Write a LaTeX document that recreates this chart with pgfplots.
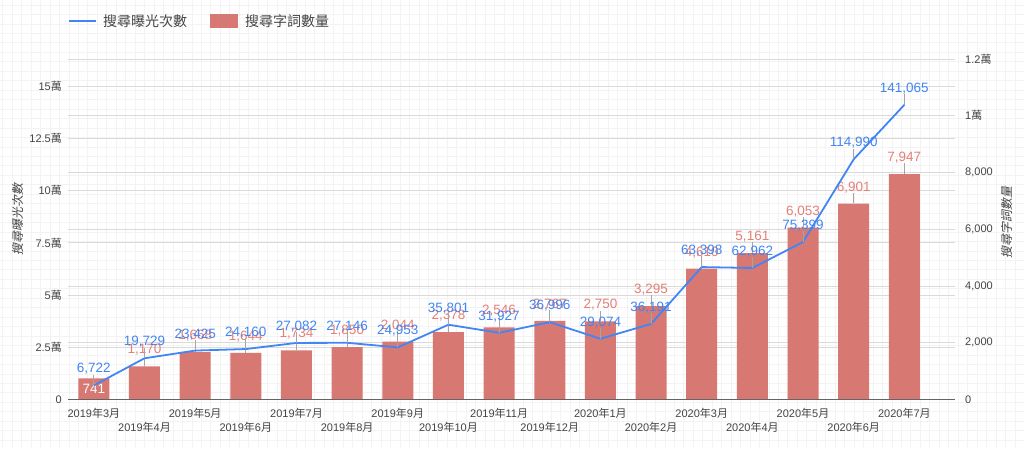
\documentclass[border=0pt]{standalone}
\usepackage{fontspec}
\usepackage{pgfplots}
\usepackage{pgfplotstable}
\pgfplotsset{compat=1.18}
\setmainfont{Liberation Sans}
\newfontfamily\cjk{Noto Sans CJK TC}
\newfontfamily\cjkit[FakeSlant=0.2]{Noto Sans CJK TC}

\definecolor{lineblue}{RGB}{66,133,244}
\definecolor{barred}{RGB}{215,120,115}
\definecolor{labred}{RGB}{228,128,120}
\definecolor{tickgray}{RGB}{68,68,68}
\definecolor{gridgray}{RGB}{218,218,218}
\definecolor{axisgray}{RGB}{100,100,100}
\definecolor{leadgray}{RGB}{165,165,165}
\definecolor{bggray}{RGB}{243,243,243}

\newcommand{\ym}[2]{#1{\cjk 年}#2{\cjk 月}}
\newcommand{\wan}{{\cjk 萬}}

% month index, impressions, keyword count
\pgfplotstableread{
x imp kw
0 6722 741
1 19729 1170
2 23425 1668
3 24160 1644
4 27082 1734
5 27146 1850
6 24953 2044
7 35801 2378
8 31927 2546
9 36996 2767
10 29074 2750
11 36191 3295
12 63398 4610
13 62962 5161
14 75399 6053
15 114990 6901
16 141065 7947
}\data

\pgfkeys{/pgf/number format/.cd, fixed, precision=0, 1000 sep={,}, assume math mode=true}

\pgfplotsset{
  base/.style={
    scale only axis, width=887pt, height=340.5pt,
    at={(68pt,48.5pt)}, anchor=south west,
    xmin=-0.51, xmax=17, ymin=0,
    scaled y ticks=false,
    major tick length=0pt,
    axis line style={draw=none},
    tick label style={font=\fontsize{11}{13}\selectfont, text=tickgray},
    grid style={gridgray, line width=0.8pt},
    clip=false,
  },
  leader/.style={draw=none, forget plot,
    nodes near coords={\textcolor{leadgray}{\rule{0.8pt}{10.5pt}}},
    every node near coord/.style={anchor=south, inner sep=0pt}},
  numlab/.style 2 args={draw=none, forget plot,
    nodes near coords={\pgfmathprintnumber{\pgfplotspointmeta}},
    every node near coord/.style={anchor=base, inner sep=0pt, yshift=#2,
      font=\fontsize{13.5}{15}\selectfont, text=#1}},
}

\begin{document}
\begin{tikzpicture}
\path[use as bounding box] (0,0) rectangle (1024pt,448pt);
\begin{scope}
\clip (0,0) rectangle (1024pt,448pt);
\foreach \i in {0,...,108} \draw[bggray, line width=0.8pt] ({2.7pt+\i*9.46pt},0) -- ({2.7pt+\i*9.46pt},448pt);
\foreach \j in {0,...,47} \draw[bggray, line width=0.8pt] (0,{443pt-\j*9.46pt}) -- (1024pt,{443pt-\j*9.46pt});
\end{scope}

% left grid and left tick labels
\begin{axis}[base, ymax=163000,
  xtick=\empty,
  ytick={0,25000,50000,75000,100000,125000,150000},
  yticklabels={0,2.5\wan,5\wan,7.5\wan,10\wan,12.5\wan,15\wan},
  yticklabel style={anchor=east, inner sep=0pt, xshift=-6pt},
  ymajorgrids]
\end{axis}

% bars on the right axis
\begin{axis}[base, ymax=12000,
  xtick=\empty,
  yticklabel pos=right,
  ytick={0,2000,4000,6000,8000,10000,12000},
  yticklabels={0,{2,000},{4,000},{6,000},{8,000},1\wan,1.2\wan},
  yticklabel style={anchor=west, inner sep=0pt, xshift=10pt},
  ymajorgrids]
\addplot[ybar, bar width=31pt, fill=barred, draw=none] table[x=x, y=kw] {\data};
\addplot[leader, skip coords between index={0}{1}] table[x=x, y=kw] {\data};
\addplot[numlab={labred}{12.5pt}, skip coords between index={0}{1}] table[x=x, y=kw] {\data};
\addplot[numlab={white}{-15.5pt}, skip coords between index={1}{17}] table[x=x, y=kw] {\data};
\end{axis}

% impressions line on the left axis
\begin{axis}[base, ymax=163000,
  ytick=\empty,
  axis x line*=bottom, axis y line*=none,
  x axis line style={draw=axisgray, line width=1.5pt},
  xtick={0,2,...,16},
  xticklabels={\ym{2019}{3},\ym{2019}{5},\ym{2019}{7},\ym{2019}{9},\ym{2019}{11},\ym{2020}{1},\ym{2020}{3},\ym{2020}{5},\ym{2020}{7}},
  extra x ticks={1,3,...,15},
  extra x tick labels={\ym{2019}{4},\ym{2019}{6},\ym{2019}{8},\ym{2019}{10},\ym{2019}{12},\ym{2020}{2},\ym{2020}{4},\ym{2020}{6}},
  extra x tick style={xticklabel style={yshift=-14pt}},
  xticklabel style={anchor=north, inner sep=0pt, yshift=-9.3pt, text height=8.5pt, text depth=1.5pt}]
\addplot[lineblue, line width=1.8pt, line join=round] table[x=x, y=imp] {\data};
\addplot[leader] table[x=x, y=imp] {\data};
\addplot[numlab={lineblue}{12.5pt}] table[x=x, y=imp] {\data};
\end{axis}

% axis titles
\node[rotate=90, text=tickgray, font=\cjkit\fontsize{12}{14}\selectfont] at (18.3pt,229pt) {搜尋曝光次數};
\node[rotate=90, text=tickgray, font=\cjkit\fontsize{12}{14}\selectfont] at (1006.7pt,225.5pt) {搜尋字詞數量};

% legend
\draw[lineblue, line width=2pt] (69pt,427pt) -- (96pt,427pt);
\node[anchor=west, inner sep=0pt, text=tickgray, font=\cjk\fontsize{14}{16}\selectfont] at (103pt,427pt) {搜尋曝光次數};
\fill[barred] (210pt,420pt) rectangle (238pt,434pt);
\node[anchor=west, inner sep=0pt, text=tickgray, font=\cjk\fontsize{14}{16}\selectfont] at (245pt,427pt) {搜尋字詞數量};
\end{tikzpicture}
\end{document}
